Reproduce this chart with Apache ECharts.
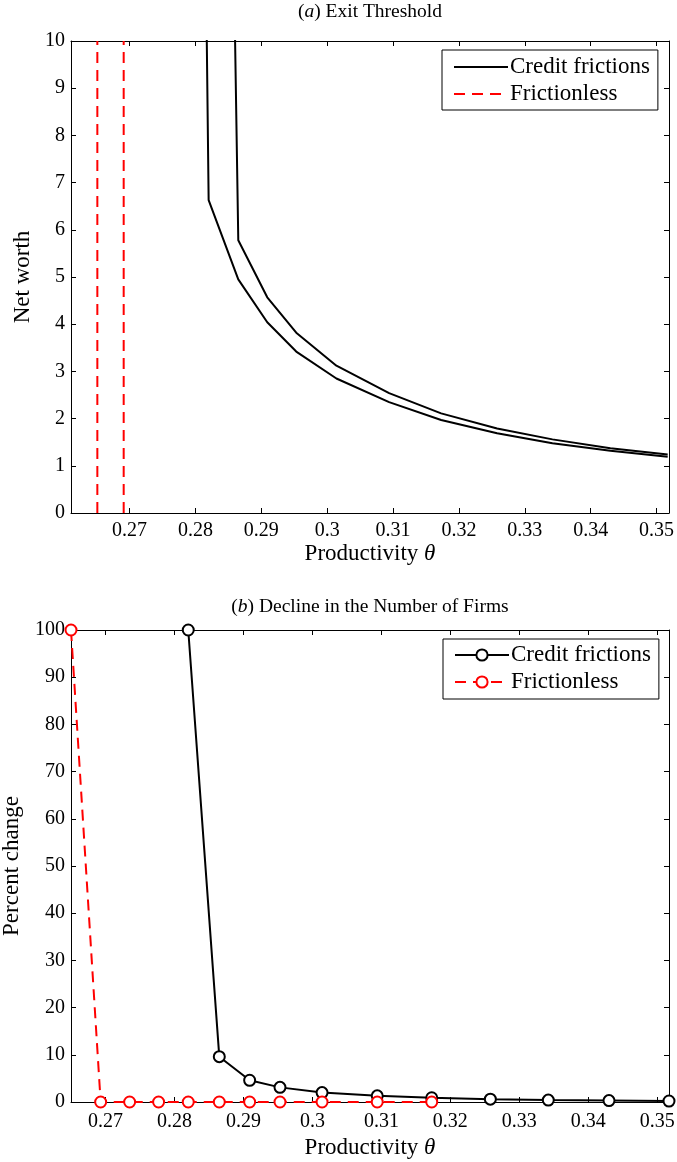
<!DOCTYPE html>
<html>
<head>
<meta charset="utf-8">
<script src="https://cdn.jsdelivr.net/npm/echarts@6/dist/echarts.min.js"></script>
<style>
  html, body { margin: 0; padding: 0; background: #fff; }
  #main { width: 677px; height: 1162px; }
</style>
</head>
<body>
<div id="main"></div>
<script>
// ---- data ----
// (a) exit threshold: net worth vs productivity theta
const thetaLow = [0.2777, 0.2820, 0.2865, 0.2909, 0.2953, 0.3014, 0.3094, 0.3173, 0.3258, 0.3342, 0.3430, 0.3517];
const netWorthLow = [58, 6.63, 4.95, 4.04, 3.42, 2.85, 2.35, 1.97, 1.69, 1.48, 1.32, 1.19];
const thetaHigh = [0.2820, 0.2865, 0.2909, 0.2953, 0.3014, 0.3094, 0.3173, 0.3258, 0.3342, 0.3430, 0.3517];
const netWorthHigh = [45, 5.78, 4.57, 3.82, 3.12, 2.54, 2.11, 1.79, 1.56, 1.37, 1.24];
const frictionlessCut = [0.2651, 0.2691];
const netWorthSpan = [0, 10];

// (b) decline in number of firms, percent
const thetaFrictionless = [0.265, 0.2693, 0.2735, 0.2777, 0.2820, 0.2865, 0.2909, 0.2953, 0.3014, 0.3094, 0.3173];
const pctFrictionless = [100, 0, 0, 0, 0, 0, 0, 0, 0, 0, 0];
const thetaCredit = [0.2820, 0.2865, 0.2909, 0.2953, 0.3014, 0.3094, 0.3173, 0.3258, 0.3342, 0.3430, 0.3517];
const pctCredit = [100, 9.6, 4.6, 3.1, 2.0, 1.3, 0.9, 0.6, 0.4, 0.3, 0.2];

// tick labels on productivity axis
const thetaTicks = [0.27, 0.28, 0.29, 0.3, 0.31, 0.32, 0.33, 0.34, 0.35];

const FONT = "'Liberation Serif', 'Times New Roman', serif";
const FS = 20;      // tick labels
const FS_BIG = 23;  // axis names + legend

function zip(xs, ys) {
  return xs.map((x, i) => [x, ys[i]]);
}

// x axis (bottom with labels, top is just the box with ticks)
function xAx(grid, min, max, isTop, nameGap, labelMargin) {
  return {
    type: "value",
    gridIndex: grid,
    position: isTop ? "top" : "bottom",
    min: min,
    max: max,
    name: isTop ? "" : "Productivity {i|θ}",
    nameLocation: "middle",
    nameGap: nameGap,
    nameTextStyle: {
      fontFamily: FONT, fontSize: FS_BIG, color: "#000",
      rich: { i: { fontFamily: FONT, fontSize: FS_BIG, fontStyle: "italic", color: "#000" } },
    },
    axisLine: { show: true, onZero: false, lineStyle: { color: "#000", width: 1 } },
    axisTick: { show: true, inside: true, length: 5, customValues: thetaTicks, lineStyle: { color: "#000" } },
    axisLabel: {
      show: !isTop, customValues: thetaTicks, margin: labelMargin,
      fontFamily: FONT, fontSize: FS, color: "#000",
    },
    splitLine: { show: false },
  };
}

function yAx(grid, max, step, isRight, name, nameGap) {
  return {
    type: "value",
    gridIndex: grid,
    position: isRight ? "right" : "left",
    min: 0,
    max: max,
    interval: step,
    name: isRight ? "" : name,
    nameLocation: "middle",
    nameGap: nameGap,
    nameTextStyle: { fontFamily: FONT, fontSize: FS_BIG, color: "#000" },
    axisLine: { show: true, onZero: false, lineStyle: { color: "#000", width: 1 } },
    axisTick: { show: true, inside: true, length: 5, lineStyle: { color: "#000" } },
    axisLabel: { show: !isRight, margin: 6, fontFamily: FONT, fontSize: FS, color: "#000" },
    splitLine: { show: false },
  };
}

function legendBox(names, left, top, pad, hideSymbol) {
  const lg = {
    data: names,
    orient: "vertical",
    left: left,
    top: top,
    padding: pad,
    itemWidth: 54,
    itemHeight: 14,
    itemGap: 3,
    borderColor: "#000",
    borderWidth: 1,
    borderRadius: 0,
    backgroundColor: "#fff",
    formatter: (n) => n.replace(" (b)", ""),
    textStyle: { fontFamily: FONT, fontSize: FS_BIG, color: "#000", lineHeight: 24, padding: [0, 0, 0, -3] },
  };
  if (hideSymbol) lg.itemStyle = { opacity: 0 };
  return lg;
}

const blackLine = { color: "#000", width: 2 };
const redDash = { color: "#ff0000", width: 2, type: [11, 7] };

const chart = echarts.init(document.getElementById("main"), null, { renderer: "canvas" });
chart.setOption({
  animation: false,
  backgroundColor: "#fff",
  grid: [
    { left: 71, top: 41, width: 598, height: 472, outerBoundsMode: "none" },
    { left: 71, top: 630, width: 598, height: 472, outerBoundsMode: "none" },
  ],
  graphic: [
    {
      type: "text", x: 370, y: 2,
      style: {
        text: "({i|a}) Exit Threshold", align: "center",
        font: "19.5px " + FONT, fill: "#000",
        rich: { i: { fontStyle: "italic", fontFamily: FONT, fontSize: 19.5 } },
      },
    },
    {
      type: "text", x: 370, y: 597,
      style: {
        text: "({i|b}) Decline in the Number of Firms", align: "center",
        font: "19.5px " + FONT, fill: "#000",
        rich: { i: { fontStyle: "italic", fontFamily: FONT, fontSize: 19.5 } },
      },
    },
  ],
  legend: [
    legendBox(["Credit frictions", "Frictionless"], 442, 50, [5, 8, 4, 11], true),
    legendBox(["Credit frictions (b)", "Frictionless (b)"], 443, 639, [4, 8, 5, 11], false),
  ],
  xAxis: [
    xAx(0, 0.2611, 0.3519, false, 29, 8),
    xAx(0, 0.2611, 0.3519, true, 0, 0),
    xAx(1, 0.265, 0.3517, false, 34, 10),
    xAx(1, 0.265, 0.3517, true, 0, 0),
  ],
  yAxis: [
    yAx(0, 10, 1, false, "Net worth", 34),
    yAx(0, 10, 1, true, "", 0),
    yAx(1, 100, 10, false, "Percent change", 48),
    yAx(1, 100, 10, true, "", 0),
  ],
  series: [
    // panel (a)
    { name: "Credit frictions", type: "line", xAxisIndex: 0, yAxisIndex: 0, data: zip(thetaLow, netWorthLow), symbol: "none", lineStyle: blackLine, itemStyle: { color: "#000" }, clip: true },
    { name: "Credit frictions", type: "line", xAxisIndex: 0, yAxisIndex: 0, data: zip(thetaHigh, netWorthHigh), symbol: "none", lineStyle: blackLine, itemStyle: { color: "#000" }, clip: true },
    { name: "Frictionless", type: "line", xAxisIndex: 0, yAxisIndex: 0, data: netWorthSpan.map((v) => [frictionlessCut[0], v]), symbol: "none", lineStyle: redDash, itemStyle: { color: "#ff0000" } },
    { name: "Frictionless", type: "line", xAxisIndex: 0, yAxisIndex: 0, data: netWorthSpan.map((v) => [frictionlessCut[1], v]), symbol: "none", lineStyle: redDash, itemStyle: { color: "#ff0000" } },
    // panel (b)
    {
      name: "Credit frictions (b)", type: "line", xAxisIndex: 2, yAxisIndex: 2,
      data: zip(thetaCredit, pctCredit),
      symbol: "emptyCircle", symbolSize: 11, showAllSymbol: true,
      lineStyle: blackLine, itemStyle: { color: "#000", borderWidth: 2 },
    },
    {
      name: "Frictionless (b)", type: "line", xAxisIndex: 2, yAxisIndex: 2,
      data: zip(thetaFrictionless, pctFrictionless),
      symbol: "emptyCircle", symbolSize: 11, showAllSymbol: true,
      lineStyle: redDash, itemStyle: { color: "#ff0000", borderWidth: 2 },
    },
  ],
});
</script>
</body>
</html>
